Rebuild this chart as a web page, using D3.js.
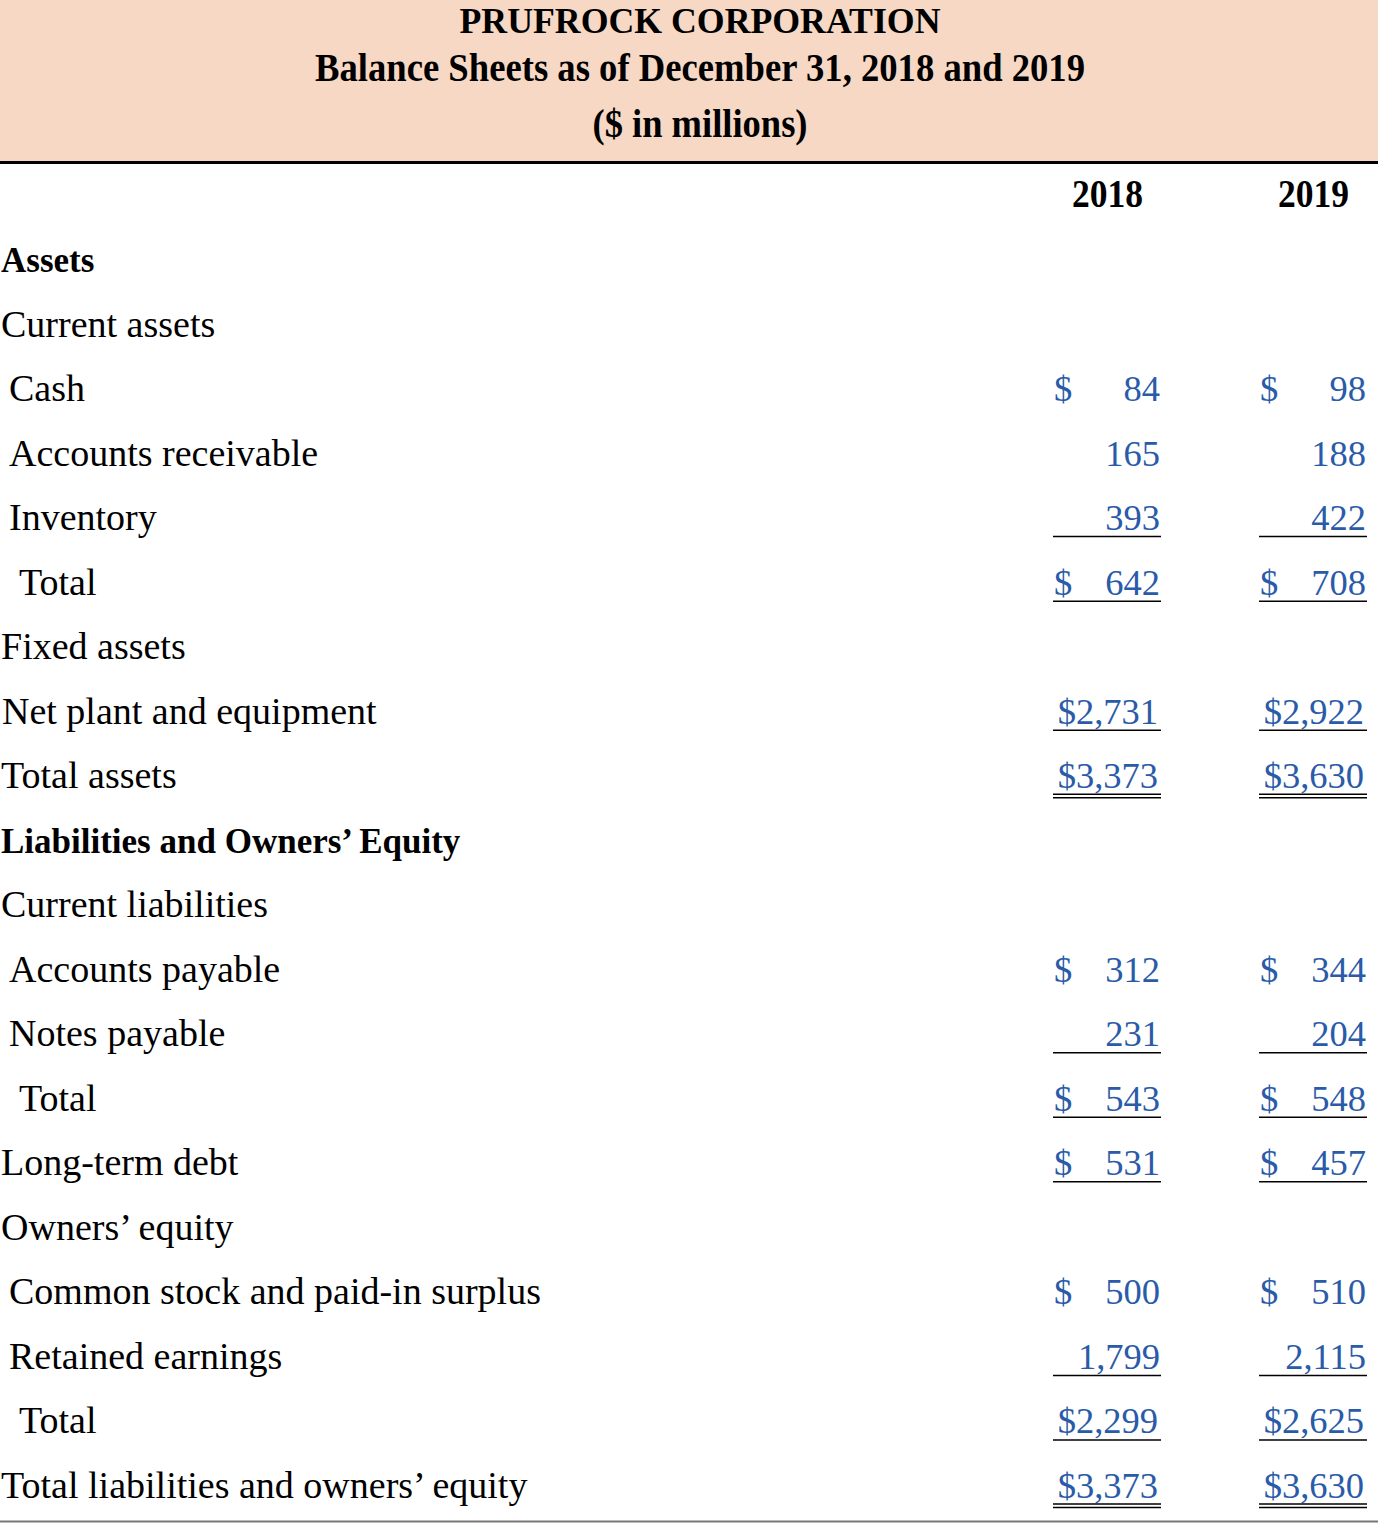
<!DOCTYPE html>
<html>
<head>
<meta charset="utf-8">
<script src="https://cdn.jsdelivr.net/npm/d3@7"></script>
<style>
  html, body { margin: 0; padding: 0; background: #ffffff; overflow: hidden; }
  svg { display: block; }
</style>
</head>
<body>
<div id="chart"></div>
<script>
// ---- Data ----
const titleLines = ["PRUFROCK CORPORATION", "Balance Sheets as of December 31, 2018 and 2019", "($ in millions)"];
const years = ["2018", "2019"];
const rowLabels = [
  "Assets", "Current assets", "Cash", "Accounts receivable", "Inventory", "Total",
  "Fixed assets", "Net plant and equipment", "Total assets",
  "Liabilities and Owners\u2019 Equity", "Current liabilities", "Accounts payable", "Notes payable", "Total",
  "Long-term debt", "Owners\u2019 equity", "Common stock and paid-in surplus", "Retained earnings", "Total",
  "Total liabilities and owners\u2019 equity"
];
const rowLevel = ["h", "h", "b", "b", "b", "c", "h", "a", "h", "h", "h", "b", "b", "c", "h", "h", "b", "b", "c", "h"];
const rowBold = [true, false, false, false, false, false, false, false, false, true, false, false, false, false, false, false, false, false, false, false];
const values2018 = [null, null, 84, 165, 393, 642, null, 2731, 3373, null, null, 312, 231, 543, 531, null, 500, 1799, 2299, 3373];
const values2019 = [null, null, 98, 188, 422, 708, null, 2922, 3630, null, null, 344, 204, 548, 457, null, 510, 2115, 2625, 3630];
const dollarStyle = ["", "", "sep", "", "", "sep", "", "att", "att", "", "", "sep", "", "sep", "sep", "", "sep", "", "att", "att"];
const ruleStyle = ["", "", "", "", "single", "single", "", "single", "double", "", "", "", "single", "single", "single", "", "", "single", "single", "double"];

// ---- Layout ----
const W = 1378, H = 1526;
const svg = d3.select("#chart").append("svg").attr("width", W).attr("height", H);

const serif = "'Liberation Serif', 'Times New Roman', Times, serif";
const blue = "#2a5ba8";

// header band
svg.append("rect").attr("x", 0).attr("y", 0).attr("width", W).attr("height", 161).attr("fill", "#f6d8c4");
svg.append("rect").attr("x", 0).attr("y", 161).attr("width", W).attr("height", 3).attr("fill", "#000");

const titleY = d3.scaleOrdinal().domain(d3.range(titleLines.length)).range([33, 81, 137]);
const titleWidths = [481, 770, 215];
const titleSizes = [36, 39, 39];
svg.selectAll("text.title").data(titleLines).join("text")
  .attr("class", "title")
  .attr("x", 700)
  .attr("y", (d, i) => titleY(i))
  .attr("text-anchor", "middle")
  .attr("font-family", serif)
  .attr("font-weight", "bold")
  .attr("font-size", (d, i) => titleSizes[i])
  .attr("textLength", (d, i) => titleWidths[i])
  .attr("lengthAdjust", "spacingAndGlyphs")
  .attr("fill", "#000")
  .text(d => d);

// columns
const colRight = d3.scaleOrdinal().domain(years).range([1160, 1366]);
const colLeft = d3.scaleOrdinal().domain(years).range([1053, 1259]);
const colRuleEnd = d3.scaleOrdinal().domain(years).range([1161, 1367]);

svg.selectAll("text.year").data(years).join("text")
  .attr("class", "year")
  .attr("x", d => colRight(d) - 17)
  .attr("y", 207)
  .attr("text-anchor", "end")
  .attr("font-family", serif)
  .attr("font-weight", "bold")
  .attr("font-size", 40)
  .attr("textLength", 71)
  .attr("lengthAdjust", "spacingAndGlyphs")
  .attr("fill", "#000")
  .text(d => d);

// rows
const rowY = d3.scaleLinear().domain([0, rowLabels.length - 1]).range([272, 1498]);
const indentX = d3.scaleOrdinal().domain(["h", "a", "b", "c"]).range([1, 2, 9, 19]);

svg.selectAll("text.label").data(rowLabels).join("text")
  .attr("class", "label")
  .attr("x", (d, i) => indentX(rowLevel[i]))
  .attr("y", (d, i) => rowY(i))
  .attr("font-family", serif)
  .attr("font-weight", (d, i) => rowBold[i] ? "bold" : "normal")
  .attr("font-size", (d, i) => rowBold[i] ? 35 : 38)
  .attr("fill", "#000")
  .text(d => d);

const fmt = d3.format(",");
const cells = [];
years.forEach((yr, c) => {
  const vals = c === 0 ? values2018 : values2019;
  vals.forEach((v, i) => {
    if (v !== null) cells.push({ year: yr, row: i, value: v, dollar: dollarStyle[i], rule: ruleStyle[i] });
  });
});

const g = svg.append("g");
// numbers
g.selectAll("text.val").data(cells).join("text")
  .attr("class", "val")
  .attr("x", d => colRight(d.year) - (d.dollar === "att" ? 2 : 0))
  .attr("y", d => rowY(d.row))
  .attr("text-anchor", "end")
  .attr("font-family", serif)
  .attr("font-size", 36.5)
  .attr("fill", blue)
  .text(d => (d.dollar === "att" ? "$" : "") + fmt(d.value));
// separate dollar signs
g.selectAll("text.dollar").data(cells.filter(d => d.dollar === "sep")).join("text")
  .attr("class", "dollar")
  .attr("x", d => colLeft(d.year) + 1)
  .attr("y", d => rowY(d.row))
  .attr("font-family", serif)
  .attr("font-size", 36.5)
  .attr("fill", blue)
  .text("$");
// rules
const ruleLines = [];
cells.forEach(d => {
  if (d.rule === "single") ruleLines.push({ year: d.year, y: rowY(d.row) + 6.5 });
  if (d.rule === "double") {
    ruleLines.push({ year: d.year, y: rowY(d.row) + 6 });
    ruleLines.push({ year: d.year, y: rowY(d.row) + 9.5 });
  }
});
g.selectAll("line.rule").data(ruleLines).join("line")
  .attr("class", "rule")
  .attr("x1", d => colLeft(d.year))
  .attr("x2", d => colRuleEnd(d.year))
  .attr("y1", d => d.y)
  .attr("y2", d => d.y)
  .attr("stroke", "#000")
  .attr("stroke-width", 1.5);

// bottom rule
svg.append("rect").attr("x", 0).attr("y", 1520.5).attr("width", W).attr("height", 2).attr("fill", "#777");
</script>
</body>
</html>
